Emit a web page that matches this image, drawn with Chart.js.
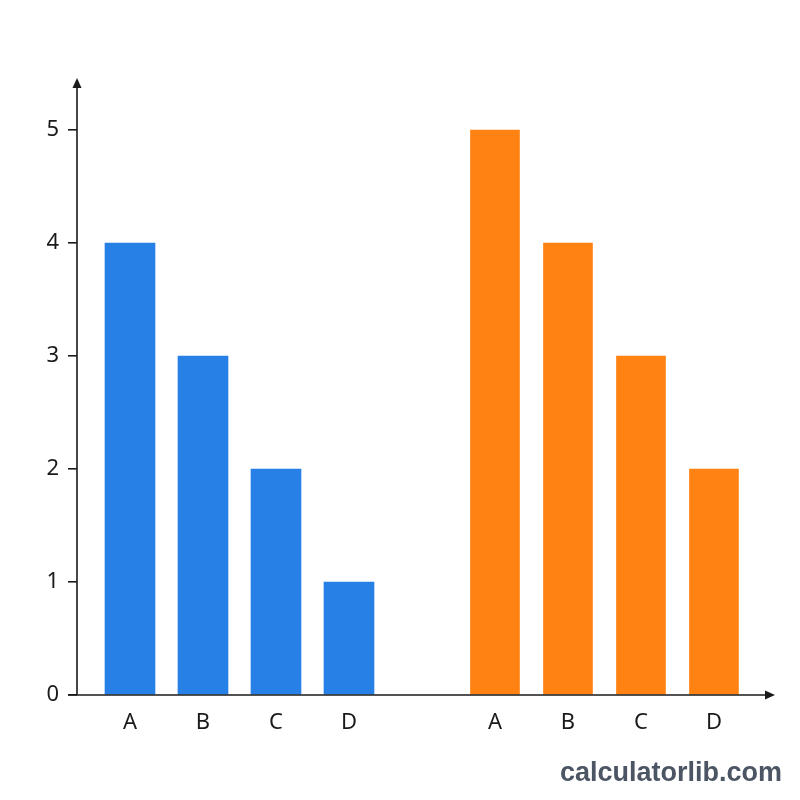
<!DOCTYPE html>
<html>
<head>
<meta charset="utf-8">
<script src="https://cdn.jsdelivr.net/npm/chart.js@4"></script>
<style>
  html, body { margin: 0; padding: 0; background: #ffffff; }
  #wrap { width: 800px; height: 800px; }
</style>
</head>
<body>
<div id="wrap"><canvas id="grafico" width="800" height="800"></canvas></div>
<script>
// datos
const categorias = ['A', 'B', 'C', 'D'];
const valoresAzul = [4, 3, 2, 1];
const valoresNaranja = [5, 4, 3, 2];
const ticksY = [0, 1, 2, 3, 4, 5];

// grupo azul en 1..4, hueco, grupo naranja en 6..9
const posAzul = categorias.map((c, i) => i + 1);
const posNaranja = categorias.map((c, i) => i + 6);
const etiquetaPorPos = {};
posAzul.forEach((p, i) => etiquetaPorPos[p] = categorias[i]);
posNaranja.forEach((p, i) => etiquetaPorPos[p] = categorias[i]);

const fuente = "'Noto Sans', 'DejaVu Sans', sans-serif";

// ejes con flecha + marca de agua
const ejesPlugin = {
  id: 'ejes',
  afterDatasetsDraw(chart) {
    const ctx = chart.ctx;
    const a = chart.chartArea;
    ctx.save();
    ctx.strokeStyle = '#1a1a1a';
    ctx.fillStyle = '#1a1a1a';
    ctx.lineWidth = 1.6;
    // eje y
    ctx.beginPath();
    ctx.moveTo(a.left, a.bottom);
    ctx.lineTo(a.left, a.top + 8);
    ctx.stroke();
    ctx.beginPath();
    ctx.moveTo(a.left, a.top);
    ctx.lineTo(a.left - 4.5, a.top + 10);
    ctx.lineTo(a.left + 4.5, a.top + 10);
    ctx.closePath();
    ctx.fill();
    // eje x
    ctx.beginPath();
    ctx.moveTo(a.left - 9, a.bottom);
    ctx.lineTo(a.right - 8, a.bottom);
    ctx.stroke();
    ctx.beginPath();
    ctx.moveTo(a.right, a.bottom);
    ctx.lineTo(a.right - 10, a.bottom - 4.5);
    ctx.lineTo(a.right - 10, a.bottom + 4.5);
    ctx.closePath();
    ctx.fill();
    // marca de agua
    ctx.font = "bold 27px 'Liberation Sans', 'DejaVu Sans', sans-serif";
    ctx.fillStyle = '#4b5563';
    ctx.textAlign = 'right';
    ctx.textBaseline = 'alphabetic';
    ctx.fillText('calculatorlib.com', 782, 781);
    ctx.restore();
  }
};

const ctx = document.getElementById('grafico').getContext('2d');
window.grafico = new Chart(ctx, {
  type: 'bar',
  data: {
    datasets: [
      {
        label: 'Grupo 1',
        data: posAzul.map((p, i) => ({ x: p, y: valoresAzul[i] })),
        backgroundColor: '#2680e6',
        barThickness: 50
      },
      {
        label: 'Grupo 2',
        data: posNaranja.map((p, i) => ({ x: p, y: valoresNaranja[i] })),
        backgroundColor: '#ff8213',
        barThickness: 49
      }
    ]
  },
  options: {
    responsive: false,
    animation: false,
    events: [],
    layout: { padding: { top: 78, right: 25, left: 0, bottom: 0 } },
    plugins: {
      legend: { display: false },
      tooltip: { enabled: false }
    },
    datasets: { bar: { grouped: false } },
    scales: {
      x: {
        type: 'linear',
        offset: false,
        min: 0.274,
        max: 9.836,
        grid: { display: false, drawTicks: false, offset: false },
        border: { display: false },
        afterBuildTicks: s => { s.ticks = posAzul.concat(posNaranja).map(v => ({ value: v })); },
        afterFit: s => { s.height = 105; },
        ticks: {
          autoSkip: false,
          maxRotation: 0,
          padding: 15,
          color: '#1a1a1a',
          font: { family: fuente, size: 22 },
          callback: v => etiquetaPorPos[v] || ''
        }
      },
      y: {
        min: 0,
        max: 5.46,
        grid: { drawOnChartArea: false, drawTicks: true, tickLength: 9, color: '#1a1a1a', lineWidth: 1.6 },
        border: { display: false },
        afterBuildTicks: s => { s.ticks = ticksY.map(v => ({ value: v })); },
        afterFit: s => { s.width = 77; },
        ticks: {
          padding: 9,
          color: '#1a1a1a',
          font: { family: fuente, size: 22 }
        }
      }
    }
  },
  plugins: [ejesPlugin]
});
</script>
</body>
</html>
